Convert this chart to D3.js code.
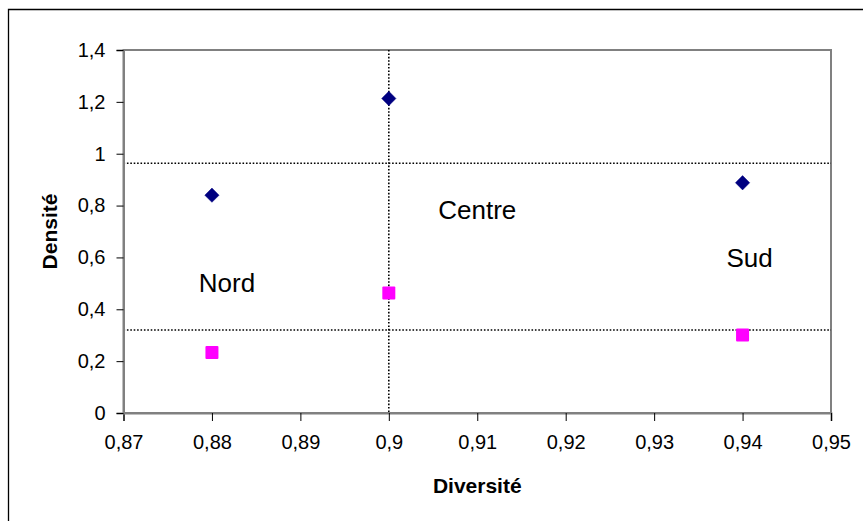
<!DOCTYPE html>
<html><head><meta charset="utf-8">
<script src="https://cdn.jsdelivr.net/npm/d3@7/dist/d3.min.js"></script>
<style>body{margin:0;background:#fff}svg{display:block}text{font-family:"Liberation Sans",Arial,sans-serif}</style>
</head><body><svg id="c" width="863" height="521"></svg>
<script>
const regions = ["Nord", "Centre", "Sud"];
const diversite = [0.88, 0.90, 0.94];
const densiteHaute = [0.84, 1.213, 0.888];
const densiteBasse = [0.233, 0.463, 0.301];
const seuilDensite = [0.963, 0.32];
const seuilDiversite = [0.90];
const xTicks = [0.87, 0.88, 0.89, 0.90, 0.91, 0.92, 0.93, 0.94, 0.95];
const yTicks = [0, 0.2, 0.4, 0.6, 0.8, 1.0, 1.2, 1.4];
const labelPos = [{x: 0.8817, y: 0.468}, {x: 0.910, y: 0.748}, {x: 0.9408, y: 0.564}];

const svg = d3.select("#c");
const L = 123.5, R = 831, T = 50, B = 413;
const x = d3.scaleLinear().domain([0.87, 0.95]).range([L, R]);
const y = d3.scaleLinear().domain([0, 1.4]).range([B, T]);
const fmt = v => String(+v.toFixed(2)).replace(".", ",");

// outer border
svg.append("path").attr("d", "M8.5,530V9.5H870").attr("fill", "none").attr("stroke", "#000").attr("stroke-width", 1.3);

// plot frame
svg.append("rect").attr("x", L).attr("y", T).attr("width", R - L).attr("height", B - T)
  .attr("fill", "#fff").attr("stroke", "#808080").attr("stroke-width", 2);

// threshold dotted lines
const dot = {stroke: "#000", "stroke-width": 1.6, "stroke-dasharray": "1.6 1.8"};
seuilDensite.forEach(v => {
  const l = svg.append("line").attr("x1", L).attr("x2", R).attr("y1", y(v)).attr("y2", y(v));
  Object.entries(dot).forEach(([k, s]) => l.attr(k, s));
});
seuilDiversite.forEach(v => {
  const l = svg.append("line").attr("x1", x(v)).attr("x2", x(v)).attr("y1", T).attr("y2", B);
  Object.entries(dot).forEach(([k, s]) => l.attr(k, s));
});

// axes
const xAxis = svg.append("g").attr("transform", `translate(0,${B})`)
  .call(d3.axisBottom(x).tickValues(xTicks).tickFormat(fmt).tickSize(8).tickPadding(14));
const yAxis = svg.append("g").attr("transform", `translate(${L},0)`)
  .call(d3.axisLeft(y).tickValues(yTicks).tickFormat(fmt).tickSize(7).tickPadding(11));
[xAxis, yAxis].forEach(g => {
  g.select(".domain").attr("stroke", "#808080").attr("stroke-width", 2);
  g.selectAll(".tick line").attr("stroke", "#000").attr("stroke-width", 1);
  g.selectAll(".tick text").attr("font-size", 20).attr("fill", "#000")
    .attr("font-family", "Liberation Sans, Arial, sans-serif");
});

// markers
const sym = d3.symbol();
svg.selectAll(".dia").data(diversite).enter().append("path")
  .attr("d", sym.type(d3.symbolDiamond2).size(130)())
  .attr("transform", (d, i) => `translate(${x(d)},${y(densiteHaute[i])})`)
  .attr("fill", "#000080").attr("stroke", "#000080").attr("stroke-width", 0.5).attr("stroke-linejoin", "round");
svg.selectAll(".sq").data(diversite).enter().append("rect")
  .attr("x", d => x(d) - 6.5).attr("y", (d, i) => y(densiteBasse[i]) - 6.5)
  .attr("width", 13).attr("height", 13).attr("rx", 1)
  .attr("fill", "#FF00FF");

// region labels
svg.selectAll(".lab").data(regions).enter().append("text")
  .attr("x", (d, i) => x(labelPos[i].x)).attr("y", (d, i) => y(labelPos[i].y))
  .attr("text-anchor", "middle").attr("font-size", 26).attr("fill", "#000").text(d => d);

// axis titles
svg.append("text").attr("x", (L + R) / 2).attr("y", 493).attr("text-anchor", "middle")
  .attr("font-size", 21).attr("font-weight", "bold").text("Diversité");
svg.append("text").attr("transform", `translate(57,${(T + B) / 2}) rotate(-90)`).attr("text-anchor", "middle")
  .attr("font-size", 21).attr("font-weight", "bold").text("Densité");
</script></body></html>
